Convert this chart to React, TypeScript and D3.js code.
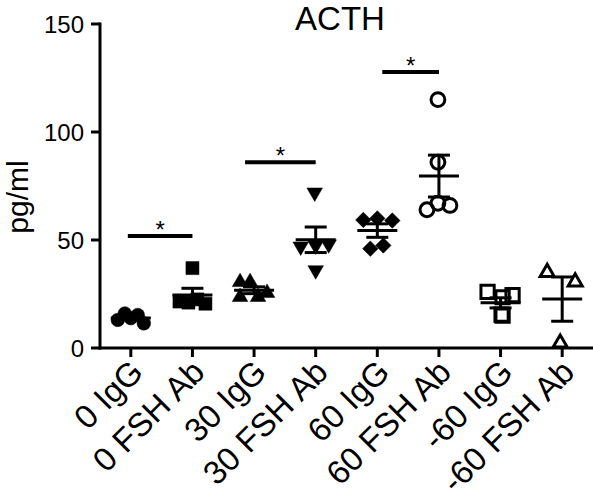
import React from 'react';
import * as d3 from 'd3';

// ---------- data ----------
const categories = ['0 IgG', '0 FSH Ab', '30 IgG', '30 FSH Ab', '60 IgG', '60 FSH Ab', '-60 IgG', '-60 FSH Ab'];

const vals0IgG = [13.0, 16.0, 13.8, 15.3, 11.4];
const vals0FSH = [37, 21.5, 21, 22.5, 20.5];
const vals30IgG = [30.5, 30.5, 23.6, 23.6, 25.5];
const vals30FSH = [72, 47, 47.5, 48, 36];
const vals60IgG = [59.3, 60, 59, 46, 47.5];
const vals60FSH = [115, 86, 64, 67, 66];
const valsM60IgG = [26, 23.5, 24.5, 15.5, 15];
const valsM60FSH = [35, 30.6, 2.3];

// horizontal scatter (jitter) of each point, px
const jit0IgG = [-13, -6, 0, 7, 13];
const jit0FSH = [0, -13, -4, 5, 13];
const jit30IgG = [-14, -4, -14, 4, 13];
const jit30FSH = [-1, -15, 0, 13, 0];
const jit60IgG = [-14, 0, 15, -7, 6];
const jit60FSH = [-1, -1, -12, -1, 11];
const jitM60IgG = [-13, 2, 12, 1, 2];
const jitM60FSH = [-15, 13, -2];

const groupValues = [vals0IgG, vals0FSH, vals30IgG, vals30FSH, vals60IgG, vals60FSH, valsM60IgG, valsM60FSH];
const groupJitter = [jit0IgG, jit0FSH, jit30IgG, jit30FSH, jit60IgG, jit60FSH, jitM60IgG, jitM60FSH];

const yTicks = [0, 50, 100, 150];

const sigPairs: [number, number][] = [[0, 1], [2, 3], [4, 5]];
const sigLevels = [51.8, 86, 127.8];
const sigLabels = ['*', '*', '*'];

// ---------- styling ----------
const W = 593;
const H = 502;
const FONT = '"Liberation Sans", Arial, Helvetica, sans-serif';

type Sym = { type: d3.SymbolType; size: number; filled: boolean; rot: number };
const symbols: Sym[] = [
  { type: d3.symbolCircle, size: 145, filled: true, rot: 0 },
  { type: d3.symbolSquare, size: 170, filled: true, rot: 0 },
  { type: d3.symbolTriangle, size: 105, filled: true, rot: 0 },
  { type: d3.symbolTriangle, size: 105, filled: true, rot: 180 },
  { type: d3.symbolSquare, size: 120, filled: true, rot: 45 },
  { type: d3.symbolCircle, size: 150, filled: false, rot: 0 },
  { type: d3.symbolSquare, size: 175, filled: false, rot: 0 },
  { type: d3.symbolTriangle, size: 85, filled: false, rot: 0 },
];
const sigInset = [-3, -9, 5];

export default function App() {
  const x = d3.scalePoint<string>().domain(categories).range([100, 593]).padding(0.5);
  const y = d3.scaleLinear().domain([0, 150]).range([348, 24]);

  const stats = groupValues.map((v) => {
    const m = d3.mean(v) as number;
    const sem = (d3.deviation(v) as number) / Math.sqrt(v.length);
    return { m, sem };
  });

  return (
    <svg
      width={W}
      height={H}
      style={{ position: 'absolute', left: 0, top: 0, background: '#fff' }}
      fontFamily={FONT}
    >
      <rect x={0} y={0} width={W} height={H} fill="#fff" />
      {/* title */}
      <text x={340} y={29.5} fontSize={33} textAnchor="middle" fill="#000">ACTH</text>

      {/* y axis */}
      <line x1={100} x2={100} y1={y(150) - 1.5} y2={y(0) + 1.5} stroke="#000" strokeWidth={3} />
      {yTicks.map((t) => (
        <g key={t}>
          <line x1={91} x2={100} y1={y(t)} y2={y(t)} stroke="#000" strokeWidth={3} />
          <text x={84} y={y(t)} dy="0.36em" fontSize={24} textAnchor="end" fill="#000">{t}</text>
        </g>
      ))}
      <text
        transform={`translate(28, 197) rotate(-90)`}
        fontSize={30}
        textAnchor="middle"
        fill="#000"
      >
        pg/ml
      </text>

      {/* x axis */}
      <line x1={98.5} x2={593} y1={y(0)} y2={y(0)} stroke="#000" strokeWidth={3} />
      {categories.map((c) => (
        <g key={c}>
          <line x1={x(c)} x2={x(c)} y1={y(0)} y2={y(0) + 9} stroke="#000" strokeWidth={3} />
          <text
            transform={`translate(${(x(c) as number) + 14}, ${y(0) + 26}) rotate(-45)`}
            fontSize={33}
            textAnchor="end"
            fill="#000"
          >
            {c}
          </text>
        </g>
      ))}

      {/* error bars (mean ± SEM) */}
      {categories.map((c, i) => {
        const cx = x(c) as number;
        const { m, sem } = stats[i];
        return (
          <g key={'eb' + c} stroke="#000" strokeWidth={3}>
            <line x1={cx} x2={cx} y1={y(m + sem)} y2={y(m - sem)} />
            <line x1={cx - 11} x2={cx + 11} y1={y(m + sem)} y2={y(m + sem)} />
            <line x1={cx - 11} x2={cx + 11} y1={y(m - sem)} y2={y(m - sem)} />
            <line x1={cx - 20} x2={cx + 20} y1={y(m)} y2={y(m)} />
          </g>
        );
      })}

      {/* points */}
      {categories.map((c, i) => {
        const cx = x(c) as number;
        const s = symbols[i];
        const path = d3.symbol().type(s.type).size(s.size)() as string;
        return (
          <g key={'pts' + c}>
            {groupValues[i].map((v, j) => (
              <path
                key={j}
                d={path}
                transform={`translate(${cx + groupJitter[i][j]}, ${y(v)}) rotate(${s.rot})`}
                fill={s.filled ? '#000' : 'none'}
                stroke="#000"
                strokeWidth={s.filled ? 0.5 : 3}
                strokeLinejoin="miter"
              />
            ))}
          </g>
        );
      })}

      {/* significance bars */}
      {sigPairs.map(([a, b], k) => {
        const x1 = (x(categories[a]) as number) + sigInset[k];
        const x2 = x(categories[b]) as number;
        const yy = y(sigLevels[k]);
        return (
          <g key={'sig' + k}>
            <line x1={x1} x2={x2} y1={yy} y2={yy} stroke="#000" strokeWidth={4} />
            <text x={(x1 + x2) / 2} y={yy + 2} fontSize={24} textAnchor="middle" fill="#000">
              {sigLabels[k]}
            </text>
          </g>
        );
      })}
    </svg>
  );
}
